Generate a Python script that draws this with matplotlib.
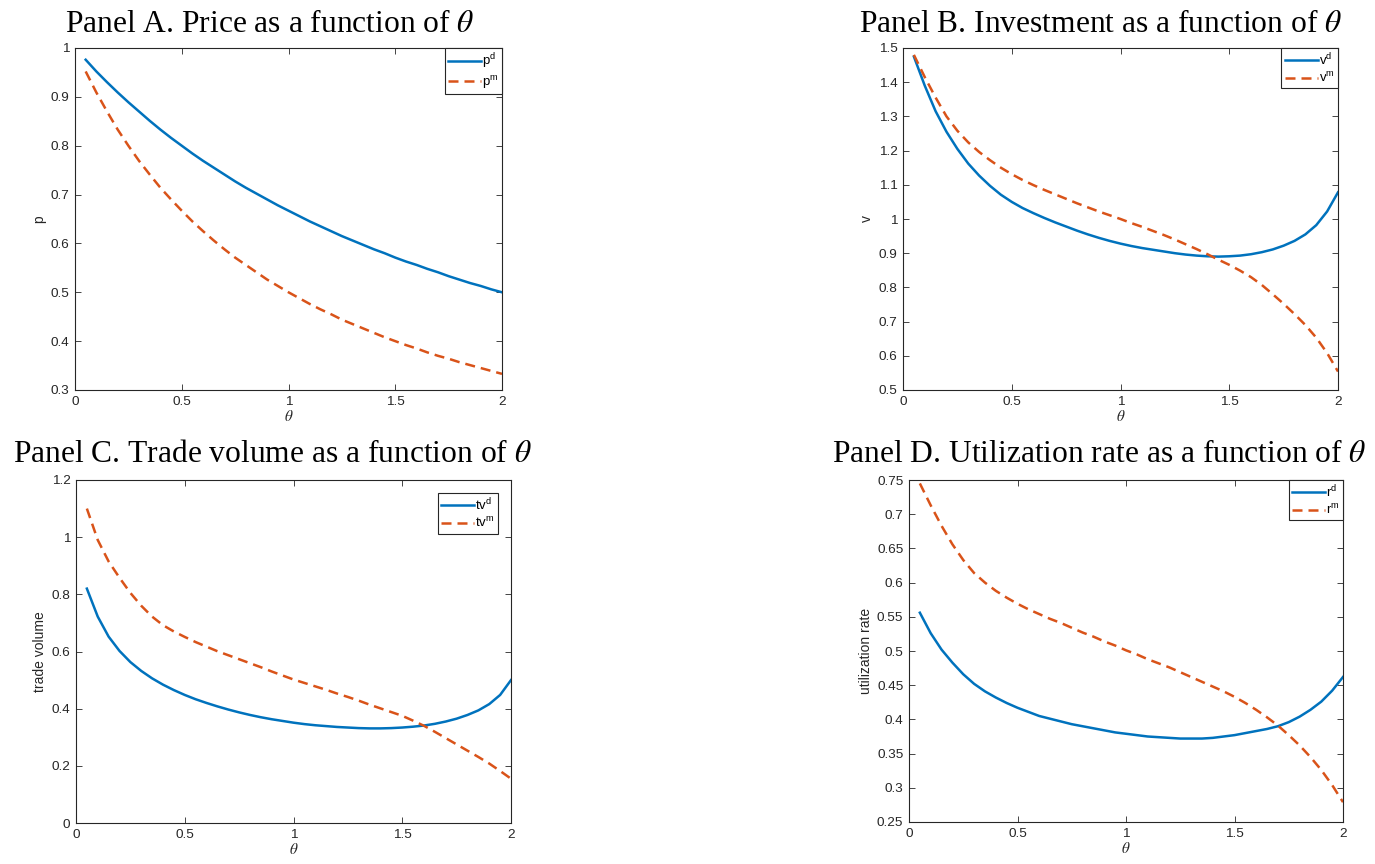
import matplotlib
matplotlib.use('Agg')
import matplotlib.pyplot as plt

plt.rcParams['font.family'] = ['Liberation Sans', 'DejaVu Sans']
plt.rcParams['mathtext.fontset'] = 'stix'

# theta grid
theta = [0.05, 0.10, 0.15, 0.20, 0.25, 0.30, 0.35, 0.40, 0.45, 0.50,
         0.55, 0.60, 0.65, 0.70, 0.75, 0.80, 0.85, 0.90, 0.95, 1.00,
         1.05, 1.10, 1.15, 1.20, 1.25, 1.30, 1.35, 1.40, 1.45, 1.50,
         1.55, 1.60, 1.65, 1.70, 1.75, 1.80, 1.85, 1.90, 1.95, 2.00]

# Panel A: price
p_d = [0.976, 0.952, 0.930, 0.909, 0.889, 0.870, 0.851, 0.833, 0.816, 0.800,
       0.784, 0.769, 0.755, 0.741, 0.727, 0.714, 0.702, 0.690, 0.678, 0.667,
       0.656, 0.645, 0.635, 0.625, 0.615, 0.606, 0.597, 0.588, 0.580, 0.571,
       0.563, 0.556, 0.548, 0.541, 0.533, 0.526, 0.519, 0.513, 0.506, 0.500]
p_m = [0.952, 0.909, 0.870, 0.833, 0.800, 0.769, 0.741, 0.714, 0.690, 0.667,
       0.645, 0.625, 0.606, 0.588, 0.571, 0.556, 0.541, 0.526, 0.513, 0.500,
       0.488, 0.476, 0.465, 0.455, 0.444, 0.435, 0.426, 0.417, 0.408, 0.400,
       0.392, 0.385, 0.377, 0.370, 0.364, 0.357, 0.351, 0.345, 0.339, 0.333]

# Panel B: investment
v_d = [1.475, 1.390, 1.315, 1.255, 1.205, 1.162, 1.127, 1.097, 1.071, 1.050,
       1.032, 1.017, 1.003, 0.990, 0.978, 0.966, 0.955, 0.945, 0.936, 0.928,
       0.921, 0.915, 0.910, 0.905, 0.900, 0.896, 0.893, 0.891, 0.890, 0.891,
       0.893, 0.897, 0.903, 0.911, 0.922, 0.936, 0.955, 0.982, 1.022, 1.078]
v_m = [1.480, 1.415, 1.355, 1.300, 1.258, 1.224, 1.196, 1.172, 1.150, 1.131,
       1.114, 1.099, 1.085, 1.072, 1.059, 1.046, 1.034, 1.022, 1.011, 1.000,
       0.988, 0.977, 0.965, 0.953, 0.940, 0.926, 0.912, 0.897, 0.881, 0.866,
       0.849, 0.830, 0.807, 0.780, 0.752, 0.722, 0.690, 0.653, 0.608, 0.554]

# Panel C: trade volume
tv_d = [0.820, 0.722, 0.652, 0.602, 0.563, 0.532, 0.506, 0.484, 0.465, 0.448,
        0.433, 0.420, 0.408, 0.397, 0.387, 0.378, 0.370, 0.363, 0.357, 0.351,
        0.346, 0.342, 0.339, 0.336, 0.334, 0.332, 0.331, 0.331, 0.332, 0.334,
        0.337, 0.341, 0.347, 0.355, 0.365, 0.378, 0.394, 0.416, 0.448, 0.500]
tv_m = [1.100, 0.990, 0.915, 0.858, 0.805, 0.760, 0.722, 0.692, 0.670, 0.651,
        0.633, 0.617, 0.601, 0.587, 0.573, 0.559, 0.545, 0.530, 0.516, 0.502,
        0.490, 0.478, 0.466, 0.453, 0.441, 0.428, 0.414, 0.401, 0.388, 0.375,
        0.358, 0.340, 0.319, 0.297, 0.275, 0.253, 0.231, 0.208, 0.182, 0.155]

# Panel D: utilization rate
r_d = [0.556, 0.526, 0.502, 0.483, 0.466, 0.452, 0.441, 0.432, 0.424, 0.417,
       0.411, 0.405, 0.401, 0.397, 0.393, 0.390, 0.387, 0.384, 0.381, 0.379,
       0.377, 0.375, 0.374, 0.373, 0.372, 0.372, 0.372, 0.373, 0.375, 0.377,
       0.380, 0.383, 0.386, 0.390, 0.396, 0.404, 0.414, 0.426, 0.442, 0.462]
r_m = [0.745, 0.713, 0.683, 0.656, 0.633, 0.614, 0.600, 0.588, 0.578, 0.569,
       0.561, 0.554, 0.547, 0.541, 0.534, 0.527, 0.521, 0.514, 0.508, 0.501,
       0.495, 0.488, 0.482, 0.476, 0.469, 0.462, 0.455, 0.448, 0.441, 0.433,
       0.424, 0.414, 0.403, 0.391, 0.377, 0.362, 0.345, 0.326, 0.304, 0.279]

BLUE = '#0072BD'
ORANGE = '#D95319'
GRAY = '#262626'

W, H = 1375, 864
fig = plt.figure(figsize=(W / 100, H / 100), dpi=100)


def make_axes(x0, y0, x1, y1):
    # pixel box -> figure fraction
    return fig.add_axes([x0 / W, 1 - y1 / H, (x1 - x0) / W, (y1 - y0) / H])


panels = [
    # box, data d, data m, ylim, yticks, ylabel, legend name, legend anchor, title, title pos
    ((75, 48, 502, 390), p_d, p_m, (0.3, 1.0), [0.3, 0.4, 0.5, 0.6, 0.7, 0.8, 0.9, 1.0], 'p',
     'p', (1.0, 1.0), 'Panel A. Price as a function of $\\theta$', (270, 32)),
    ((903, 48, 1338, 390), v_d, v_m, (0.5, 1.5), [0.5, 0.6, 0.7, 0.8, 0.9, 1.0, 1.1, 1.2, 1.3, 1.4, 1.5], 'v',
     'v', (1.0, 1.0), 'Panel B. Investment as a function of $\\theta$', (1100, 32)),
    ((76, 480, 511, 823), tv_d, tv_m, (0.0, 1.2), [0, 0.2, 0.4, 0.6, 0.8, 1.0, 1.2], 'trade volume',
     'tv', (0.970, 0.962), 'Panel C. Trade volume as a function of $\\theta$', (272, 462)),
    ((909, 480, 1343, 822), r_d, r_m, (0.25, 0.75), [0.25, 0.3, 0.35, 0.4, 0.45, 0.5, 0.55, 0.6, 0.65, 0.7, 0.75],
     'utilization rate', 'r', (1.0, 1.0), 'Panel D. Utilization rate as a function of $\\theta$', (1099, 462)),
]

for box, yd, ym, ylim, yticks, ylabel, name, anchor, title, tpos in panels:
    ax = make_axes(*box)
    ax.plot(theta, yd, color=BLUE, lw=1.8, label='$\\mathregular{%s^d}$' % name)
    ax.plot(theta, ym, color=ORANGE, lw=1.8, dashes=(4, 2.4), label='$\\mathregular{%s^m}$' % name)
    ax.set_xlim(0, 2)
    ax.set_ylim(*ylim)
    ax.set_xticks([0, 0.5, 1, 1.5, 2])
    ax.set_xticklabels(['0', '0.5', '1', '1.5', '2'])
    ax.set_yticks(yticks)
    ax.set_yticklabels(['%g' % t for t in yticks])
    ax.tick_params(direction='in', length=4, width=0.6, top=True, right=True,
                   labelsize=9.7, colors=GRAY, pad=4)
    for s in ax.spines.values():
        s.set_color(GRAY)
        s.set_linewidth(0.8)
    ax.set_ylabel(ylabel, fontsize=10, color=GRAY, labelpad=3)
    ax.set_xlabel('$\\theta$', fontsize=11, color=GRAY, labelpad=1)
    leg = ax.legend(loc='upper right', bbox_to_anchor=anchor, borderaxespad=0,
                    fontsize=9.5, fancybox=False, framealpha=1, edgecolor=GRAY,
                    handlelength=2.5, handletextpad=0.1, borderpad=0.25, labelspacing=0.25)
    leg.get_frame().set_linewidth(0.8)
    fig.text(tpos[0] / W, 1 - tpos[1] / H, title, ha='center', va='baseline',
             fontsize=22.7, family='Liberation Serif')

fig.savefig('out.png', dpi=100)
